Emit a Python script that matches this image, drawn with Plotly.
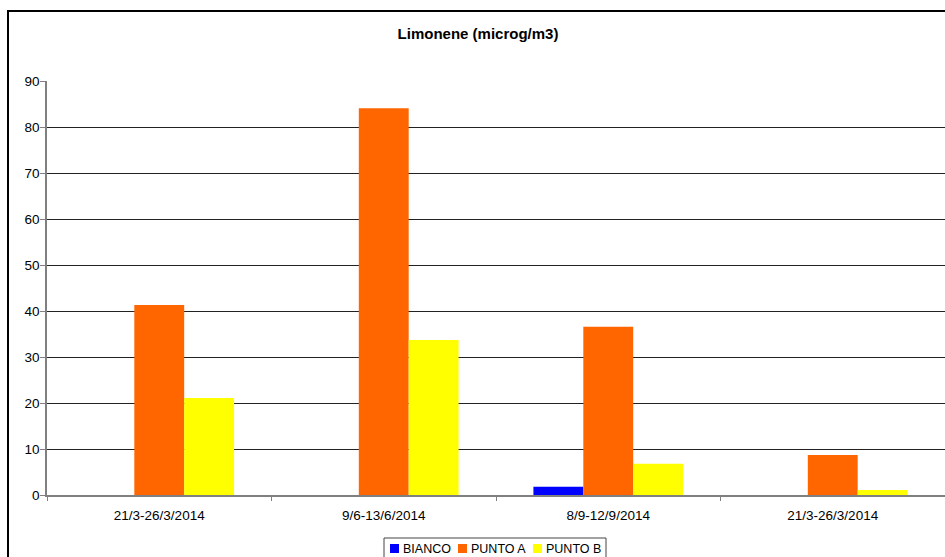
import plotly.graph_objects as go

# Sampling periods (the first and last period share the same label)
periods = ["21/3-26/3/2014", "9/6-13/6/2014", "8/9-12/9/2014", "21/3-26/3/2014"]
positions = [0, 1, 2, 3]

bianco = [0, 0, 1.8, 0]
punto_a = [41.3, 84.1, 36.6, 8.7]
punto_b = [21.1, 33.7, 6.8, 1.1]

y_ticks = [0, 10, 20, 30, 40, 50, 60, 70, 80, 90]

series = [
    ("BIANCO", bianco, "#0000FF"),
    ("PUNTO A", punto_a, "#FF6600"),
    ("PUNTO B", punto_b, "#FFFF00"),
]

FONT = "Liberation Sans, Arial, sans-serif"
W, H = 945, 557
L, R, T, B = 47, 0, 81, 62
PW, PH = W - L - R, H - T - B


def px_x(px):
    """Horizontal pixel -> paper coordinate."""
    return (px - L) / PW


def px_y(py):
    """Vertical pixel (from top) -> paper coordinate."""
    return (H - B - py) / PH


fig = go.Figure()
for name, vals, color in series:
    fig.add_trace(go.Bar(
        x=positions, y=vals, name=name,
        marker=dict(color=color, line=dict(width=0)),
        showlegend=False,
    ))

# Compact boxed legend below the plot
shapes = [
    # outer chart frame
    dict(type="rect", xref="paper", yref="paper",
         x0=px_x(8), x1=px_x(W + 20), y0=px_y(H + 20), y1=px_y(11),
         line=dict(color="black", width=2), fillcolor="rgba(0,0,0,0)",
         layer="below"),
    # legend box
    dict(type="rect", xref="paper", yref="paper",
         x0=px_x(384), x1=px_x(606), y0=px_y(H + 5), y1=px_y(538),
         line=dict(color="#444444", width=1), fillcolor="white"),
]
annotations = []
legend_x = [390, 458, 533]
for (name, _, color), lx in zip(series, legend_x):
    shapes.append(dict(
        type="rect", xref="paper", yref="paper",
        x0=px_x(lx), x1=px_x(lx + 9), y0=px_y(553), y1=px_y(544),
        line=dict(width=0), fillcolor=color,
    ))
    annotations.append(dict(
        text=name, xref="paper", yref="paper",
        x=px_x(lx + 11), y=px_y(548.5), xanchor="left", yanchor="middle",
        showarrow=False, font=dict(family=FONT, size=12.5, color="black"),
    ))

fig.update_layout(
    width=W, height=H,
    margin=dict(l=L, r=R, t=T, b=B, autoexpand=False),
    paper_bgcolor="white", plot_bgcolor="white",
    barmode="group", bargap=1/3, bargroupgap=0,
    font=dict(family=FONT, size=13, color="black"),
    title=dict(
        text="<b>Limonene (microg/m3)</b>",
        x=478/W, xref="container", xanchor="center",
        y=1 - 34/H, yref="container", yanchor="middle",
        font=dict(family=FONT, size=15, color="black"),
    ),
    showlegend=False,
    shapes=shapes,
    annotations=annotations,
)

fig.update_xaxes(
    range=[-0.5, 3.5], tickvals=positions, ticktext=periods,
    ticks="", showgrid=False, zeroline=False,
    showline=True, linecolor="#808080", linewidth=1.5,
    tickfont=dict(family=FONT, size=13.5, color="black"),
    ticklabelstandoff=7,
    minor=dict(tickvals=[-0.5, 0.5, 1.5, 2.5, 3.5], ticks="outside",
               ticklen=4, tickcolor="#808080", showgrid=False),
    fixedrange=True,
)
fig.update_yaxes(
    range=[0, 90], tickvals=y_ticks,
    ticks="outside", ticklen=5, tickcolor="#808080",
    showgrid=True, gridcolor="#222222", gridwidth=1,
    zeroline=False, showline=True, linecolor="#808080", linewidth=1.5,
    tickfont=dict(family=FONT, size=13.5, color="black"),
    ticklabelstandoff=-2,
    fixedrange=True,
)

fig.write_html("out.html")
